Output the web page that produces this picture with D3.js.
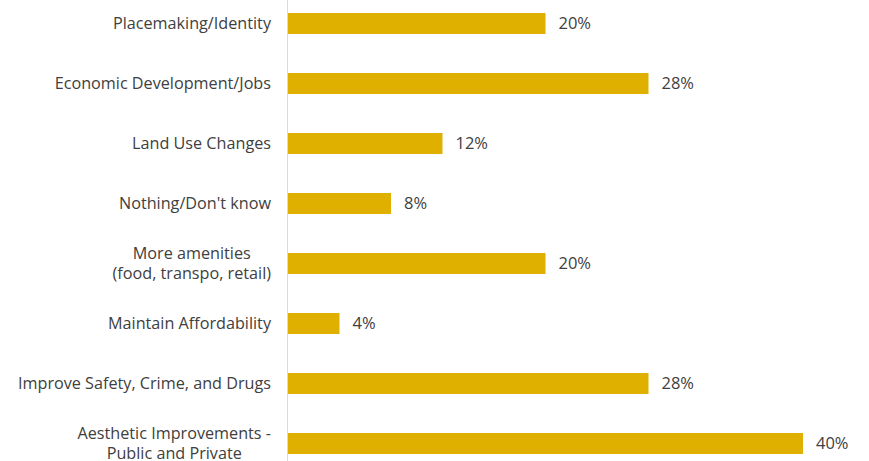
<!DOCTYPE html>
<html lang="en">
<head>
  <meta charset="UTF-8">
  <title>Improvements</title>
  <script src="https://cdn.jsdelivr.net/npm/d3@7"></script>
  <style>
    html, body {
      margin: 0;
      padding: 0;
      background: #fff;
    }
    text {
      font-family: "Open Sans", sans-serif;
      fill: #404040;
    }
  </style>
</head>
<body>
  <svg id="chart" width="869" height="461"></svg>
  <script>
    const categories = [
      ['Placemaking/Identity'],
      ['Economic Development/Jobs'],
      ['Land Use Changes'],
      ["Nothing/Don't know"],
      ['More amenities', '(food, transpo, retail)'],
      ['Maintain Affordability'],
      ['Improve Safety, Crime, and Drugs'],
      ['Aesthetic Improvements -', 'Public and Private']
    ];
    const values = [20, 28, 12, 8, 20, 4, 28, 40];

    const svg = d3.select('#chart');
    const W = 869, H = 461;
    const axisX = 287.5;

    const x = d3.scaleLinear().domain([0, 40]).range([axisX + 0.5, 803]);
    const y = d3.scaleBand()
      .domain(d3.range(categories.length))
      .range([-6.5, 473.5])
      .paddingInner(0.65)
      .paddingOuter(0.325);

    // bars
    svg.selectAll('rect.bar')
      .data(values)
      .join('rect')
      .attr('class', 'bar')
      .attr('x', x(0))
      .attr('y', (d, i) => y(i))
      .attr('width', d => x(d) - x(0))
      .attr('height', y.bandwidth())
      .attr('fill', '#DFB000');

    // vertical axis line
    svg.append('line')
      .attr('x1', axisX).attr('x2', axisX)
      .attr('y1', 0).attr('y2', H)
      .attr('stroke', '#d9d9d9')
      .attr('stroke-width', 1);

    // value labels
    svg.selectAll('text.val')
      .data(values)
      .join('text')
      .attr('class', 'val')
      .attr('x', d => x(d) + 13)
      .attr('y', (d, i) => y(i) + y.bandwidth() / 2)
      .attr('dy', '0.35em')
      .style('font-size', '16.5px')
      .text(d => d + '%');

    // category labels, each block right aligned, lines centred within block
    const labelRight = 271;
    const lineH = 19.5;
    categories.forEach((lines, i) => {
      const cy = y(i) + y.bandwidth() / 2;
      const g = svg.append('g');
      const texts = lines.map((s, k) => g.append('text')
        .style('font-size', '16.2px')
        .attr('text-anchor', 'middle')
        .attr('y', cy + (k - (lines.length - 1) / 2) * lineH)
        .attr('dy', '0.35em')
        .text(s));
      const maxW = d3.max(texts, t => t.node().getComputedTextLength());
      texts.forEach(t => t.attr('x', labelRight - maxW / 2));
    });
  </script>
</body>
</html>
